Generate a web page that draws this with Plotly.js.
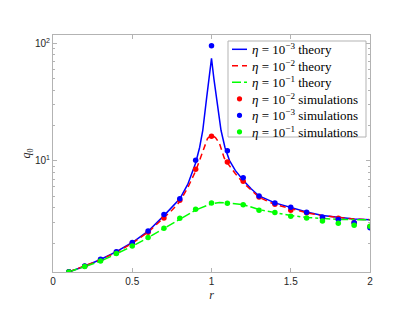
<!DOCTYPE html>
<html>
<head>
<meta charset="utf-8">
<script src="https://cdn.plot.ly/plotly-3.0.1.min.js"></script>
<style>html,body{margin:0;padding:0;background:#fff;}#chart{width:409px;height:316px;}</style>
</head>
<body>
<div id="chart"></div>
<script>
// Simulation radii
const rSim = [0.1,0.2,0.3,0.4,0.5,0.6,0.7,0.8,0.9,1.0,1.1,1.2,1.3,1.4,1.5,1.6,1.7,1.8,1.9,2.0];
// Simulations
const simEta2 = [1.14,1.27,1.44,1.67,1.99,2.47,3.27,4.62,8.5,16.2,9.8,6.72,4.93,4.28,3.80,3.62,3.28,3.25,2.98,2.76];
const simEta3 = [1.14,1.276,1.455,1.69,2.02,2.53,3.49,4.75,10.1,95.5,12.2,7.19,5.03,4.39,4.03,3.66,3.33,3.17,2.98,2.70];
const simEta1 = [1.134,1.26,1.406,1.63,1.89,2.23,2.67,3.25,3.88,4.39,4.36,4.24,3.80,3.64,3.38,3.26,3.08,2.94,2.84,2.78];

// Theory curves
const rTh3 = [0.1,0.2,0.3,0.4,0.5,0.6,0.7,0.75,0.8,0.85,0.9,0.925,0.945,0.97,0.985,1.0,1.015,1.03,1.06,1.085,1.113,1.15,1.2,1.25,1.3,1.4,1.5,1.6,1.7,1.8,1.9,2.0];
const th3 = [1.135,1.27,1.45,1.69,2.02,2.52,3.42,4.0,4.75,6.3,9.6,13,18.2,35,50,74.5,50,35,18.2,13,10.1,8.3,6.85,5.8,5.03,4.39,4.0,3.68,3.43,3.29,3.2,3.16];

const rTh2 = [0.1,0.2,0.3,0.4,0.5,0.6,0.7,0.75,0.8,0.85,0.9,0.925,0.95,0.975,1.0,1.025,1.05,1.08,1.1,1.15,1.2,1.25,1.3,1.4,1.5,1.6,1.7,1.8,1.9,2.0];
const th2 = [1.135,1.27,1.44,1.67,1.99,2.47,3.27,3.8,4.5,5.9,8.2,10.1,12.8,15.5,16.6,15.8,14.1,10.6,9.6,7.8,6.5,5.6,4.9,4.25,3.9,3.62,3.42,3.29,3.2,3.16];

const rTh1 = [0.1,0.2,0.3,0.4,0.5,0.6,0.7,0.8,0.9,1.0,1.05,1.1,1.2,1.3,1.4,1.5,1.6,1.7,1.8,1.9,2.0];
const th1 = [1.135,1.26,1.40,1.62,1.88,2.22,2.65,3.2,3.82,4.32,4.42,4.4,4.25,3.85,3.62,3.43,3.3,3.22,3.18,3.16,3.15];

// Legend labels
const names = [
  '<i>η</i> = 10<sup>−3</sup> theory', '<i>η</i> = 10<sup>−2</sup> theory', '<i>η</i> = 10<sup>−1</sup> theory',
  '<i>η</i> = 10<sup>−2</sup> simulations', '<i>η</i> = 10<sup>−3</sup> simulations', '<i>η</i> = 10<sup>−1</sup> simulations'
];

const tickFont = {family:'Liberation Sans, Arial, sans-serif', size:10, color:'#262626'};
const serif = 'Liberation Serif, Times New Roman, serif';
const axisColor = '#b3b3b3';

const traces = [
  {x:rTh3, y:th3, mode:'lines', name:names[0], line:{color:'#0000ff', width:1.5}},
  {x:rTh2, y:th2, mode:'lines', name:names[1], line:{color:'#ff0000', width:1.5, dash:'6px,4px'}},
  {x:rTh1, y:th1, mode:'lines', name:names[2], line:{color:'#00ff00', width:1.5, dash:'dashdot'}},
  {x:rSim, y:simEta2, mode:'markers', name:names[3], marker:{color:'#ff0000', size:5.5}},
  {x:rSim, y:simEta3, mode:'markers', name:names[4], marker:{color:'#0000ff', size:5.5}},
  {x:rSim, y:simEta1, mode:'markers', name:names[5], marker:{color:'#00ff00', size:5.5}}
];

// Compact legend (MATLAB-style row spacing), built from the traces above
const W = 409, H = 316, M = {l:53, r:39, t:35, b:44};
const pw = W - M.l - M.r, ph = H - M.t - M.b;
const px2x = px => (px - M.l) / pw;
const py2y = py => (H - M.b - py) / ph;
const legBox = {x0:228, x1:366, y0:41, y1:137};
const rowTop = 49.3, rowStep = 16.5;
const shapes = [{
  type:'rect', xref:'paper', yref:'paper', layer:'above',
  x0:px2x(legBox.x0), x1:px2x(legBox.x1), y0:py2y(legBox.y1), y1:py2y(legBox.y0),
  fillcolor:'#ffffff', line:{color:axisColor, width:1}
}];
const annotations = [];
traces.forEach((t, i) => {
  const yy = py2y(rowTop + i * rowStep);
  if (t.mode === 'lines') {
    shapes.push({type:'line', xref:'paper', yref:'paper', layer:'above',
      x0:px2x(232), x1:px2x(247), y0:yy, y1:yy,
      line:{color:t.line.color, width:t.line.width, dash:t.line.dash || 'solid'}});
  } else {
    shapes.push({type:'circle', xref:'paper', yref:'paper', layer:'above',
      xsizemode:'pixel', ysizemode:'pixel', xanchor:px2x(239.5), yanchor:yy,
      x0:-2.6, x1:2.6, y0:-2.6, y1:2.6,
      fillcolor:t.marker.color, line:{width:0}});
  }
  annotations.push({xref:'paper', yref:'paper', x:px2x(250), y:yy, xanchor:'left', yanchor:'middle',
    text:t.name, showarrow:false, font:{family:serif, size:13, color:'#000'}});
});

const layout = {
  width:W, height:H,
  margin:M,
  paper_bgcolor:'#ffffff', plot_bgcolor:'#ffffff',
  showlegend:false,
  shapes:shapes,
  annotations:annotations,
  xaxis:{
    range:[0,2], tickvals:[0,0.5,1,1.5,2], ticktext:['0','0.5','1','1.5','2'],
    ticks:'inside', ticklen:4, tickcolor:axisColor, showline:true, linecolor:axisColor, linewidth:1,
    mirror:'ticks', showgrid:false, zeroline:false, tickfont:tickFont,
    title:{text:'<i>r</i>', font:{family:serif, size:12, color:'#262626'}, standoff:4}
  },
  yaxis:{
    type:'log', range:[Math.log10(1.134), 2.0707],
    tickvals:[10,100], ticktext:['10<sup>1</sup>','10<sup>2</sup>'],
    ticks:'inside', ticklen:4, tickcolor:axisColor, showline:true, linecolor:axisColor, linewidth:1,
    mirror:'ticks', showgrid:false, zeroline:false, tickfont:tickFont,
    minor:{tickvals:[2,3,4,5,6,7,8,9,20,30,40,50,60,70,80,90], ticks:'inside', ticklen:2, tickcolor:axisColor, showgrid:false},
    title:{text:'<i>q</i><sub>0</sub>', font:{family:serif, size:12, color:'#262626'}, standoff:0}
  }
};

Plotly.newPlot('chart', traces, layout, {displayModeBar:false, staticPlot:true});
</script>
</body>
</html>
